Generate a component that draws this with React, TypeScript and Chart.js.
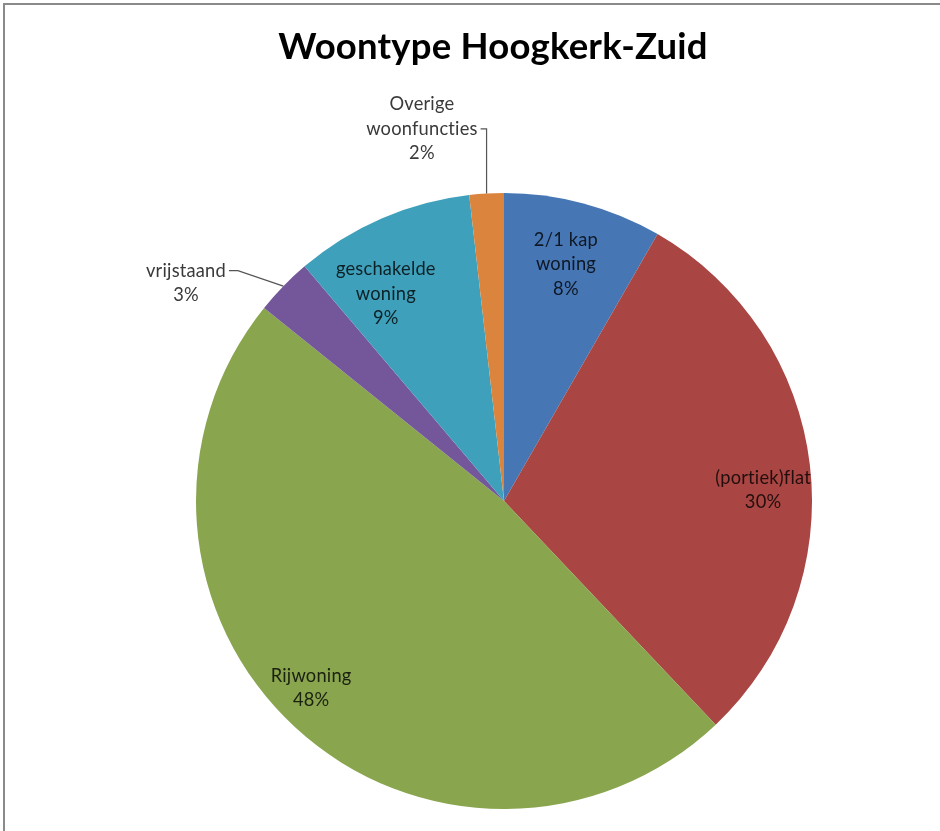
import React, { useEffect, useRef } from 'react';
import { Chart, registerables } from 'chart.js';

Chart.register(...registerables);

const TITLE = 'Woontype Hoogkerk-Zuid';
const categories = ['2/1 kap woning', '(portiek)flat', 'Rijwoning', 'vrijstaand', 'geschakelde woning', 'Overige woonfuncties'];
const labelLines = [['2/1 kap', 'woning'], ['(portiek)flat'], ['Rijwoning'], ['vrijstaand'], ['geschakelde', 'woning'], ['Overige', 'woonfuncties']];
const shares = [8.3, 29.6, 47.8, 3.0, 9.4, 1.8];
const colors = ['#4676B4', '#A94643', '#89A54E', '#73579A', '#3FA0BB', '#DB843D'];

// label placement relative to each slice (radius factor, angle shift in degrees)
const labelRadius = [0.795, 0.842, 0.872, 1.252, 0.774, 1.237];
const labelAngleShift = [-0.3, 4.3, 3.2, -9.8, -6.3, -9.2];
const leaderLine = [-1, -1, -1, 0, -1, 1];

const FONT = 'Lato, "Open Sans", sans-serif';

const labelPlugin = {
  id: 'sliceLabels',
  afterDatasetsDraw(chart: any) {
    const ctx = chart.ctx;
    const meta = chart.getDatasetMeta(0);
    const total = shares.reduce((a, b) => a + b, 0);
    ctx.save();
    try {
      ctx.letterSpacing = '0.2px';
    } catch (e) {}
    // title
    ctx.font = `bold 36.5px ${FONT}`;
    ctx.fillStyle = '#000';
    ctx.textAlign = 'center';
    ctx.textBaseline = 'middle';
    ctx.fillText(TITLE, chart.width / 2 + 23, 47);

    ctx.font = `18.3px ${FONT}`;
    const lh = 24.5;
    meta.data.forEach((arc: any, i: number) => {
      const p = arc.getProps(['x', 'y', 'startAngle', 'endAngle', 'outerRadius'], true);
      const emid = (p.startAngle + p.endAngle) / 2;
      const mid = emid + (labelAngleShift[i] * Math.PI) / 180;
      const r = p.outerRadius * labelRadius[i];
      const cx = p.x + Math.cos(mid) * r;
      const cy = p.y + Math.sin(mid) * r;
      const pct = Math.round((shares[i] / total) * 100) + '%';
      const lines = [...labelLines[i], pct];
      const top = cy - ((lines.length - 1) * lh) / 2;
      const outside = leaderLine[i] >= 0;
      ctx.fillStyle = outside ? '#3a3a3a' : 'rgba(0,0,0,0.8)';
      lines.forEach((t, k) => ctx.fillText(t, cx, top + k * lh));
      if (outside) {
        const k = leaderLine[i];
        const w = ctx.measureText(lines[k]).width;
        const ax = cx + w / 2 + 3;
        const ay = top + k * lh;
        const ex = p.x + Math.cos(emid) * p.outerRadius;
        const ey = p.y + Math.sin(emid) * p.outerRadius;
        const bx = Math.min(ax + 9, ex);
        ctx.strokeStyle = '#555';
        ctx.lineWidth = 1.2;
        ctx.beginPath();
        ctx.moveTo(ax, ay);
        ctx.lineTo(bx, ay);
        ctx.lineTo(ex, ey);
        ctx.stroke();
      }
    });
    ctx.restore();
  },
};

export default function App() {
  const ref = useRef<HTMLCanvasElement>(null);
  useEffect(() => {
    if (!ref.current) return;
    const chart = new Chart(ref.current, {
      type: 'pie',
      data: {
        labels: categories,
        datasets: [
          {
            data: shares,
            backgroundColor: colors,
            borderWidth: 0,
          },
        ],
      },
      options: {
        responsive: false,
        animation: false,
        layout: { padding: { left: 196, right: 128, top: 193, bottom: 22 } },
        plugins: {
          legend: { display: false },
          tooltip: { enabled: false },
          title: { display: false },
        },
      },
      plugins: [labelPlugin],
    });
    return () => chart.destroy();
  }, []);
  return (
    <div style={{ position: 'absolute', left: 0, top: 0, width: 940, height: 831, background: '#fff', overflow: 'hidden' }}>
      <div
        style={{
          position: 'absolute',
          left: 3,
          top: 3,
          width: 960,
          height: 860,
          borderLeft: '2px solid #8a8a8a',
          borderTop: '2px solid #8a8a8a',
        }}
      />
      <canvas ref={ref} width={940} height={831} style={{ position: 'absolute', left: 0, top: 0 }} />
    </div>
  );
}
